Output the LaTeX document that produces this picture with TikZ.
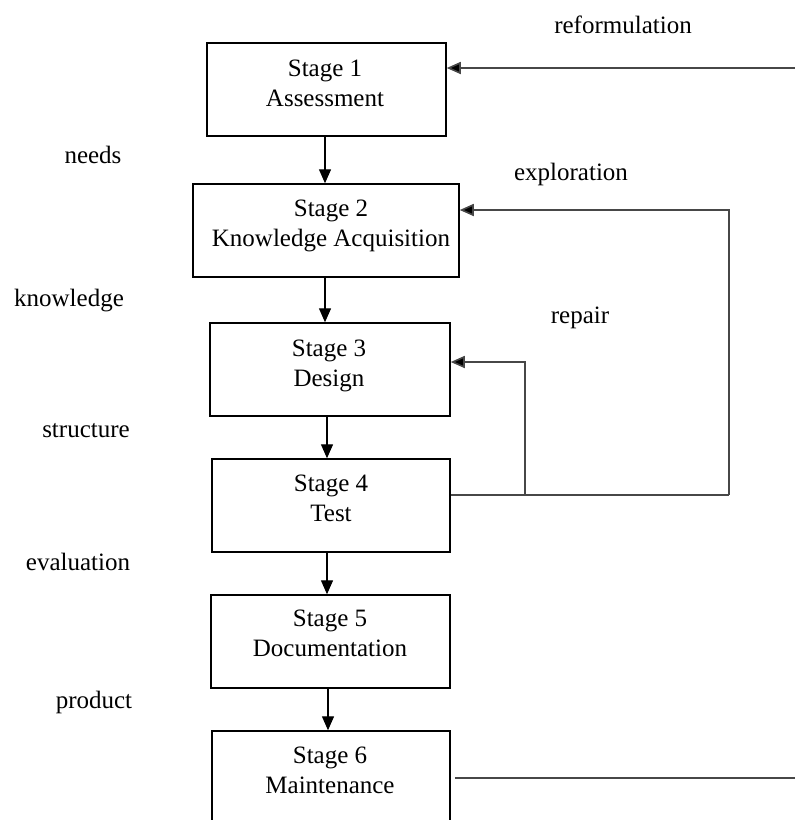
\documentclass[tikz,border=0pt]{standalone}
\usepackage{fontspec}
\setmainfont{Liberation Serif}
\usetikzlibrary{arrows.meta,calc}
\begin{document}
\begin{tikzpicture}[x=1pt,y=-1pt,
  stagebox/.style={draw=black,line width=1.5pt,rectangle,inner sep=0pt},
  stagetext/.style={anchor=base,align=center,inner sep=0pt,font=\fontsize{25}{30}\selectfont},
  lbl/.style={anchor=base,inner sep=0pt,font=\fontsize{25}{30}\selectfont},
  arr/.style={line width=1.4pt,-{Triangle[length=14pt,width=12pt]}},
  fb/.style={line width=1.6pt,draw=black!72},
  fbarr/.style={fb,-{Triangle[length=14pt,width=12pt,fill=black]}}]
\useasboundingbox (0,0) rectangle (795,820);
\clip (0,0) rectangle (795,820);
\fill[white] (0,0) rectangle (795,820);
% boxes
\node[stagebox,minimum width=239pt,minimum height=93pt] (b1) at (326.5,89.5) {};
\node[stagebox,minimum width=266pt,minimum height=93pt] (b2) at (326,230.5) {};
\node[stagebox,minimum width=240pt,minimum height=93pt] (b3) at (330,369.5) {};
\node[stagebox,minimum width=238pt,minimum height=93pt] (b4) at (331,505.5) {};
\node[stagebox,minimum width=239pt,minimum height=93pt] (b5) at (330.5,641.5) {};
\node[stagebox,minimum width=238pt,minimum height=93pt] (b6) at (331,777.5) {};
% texts (anchor base = baseline of the last line)
\node[stagetext] (t1) at (325,106) {Stage 1\\Assessment};
\node[stagetext] (t2) at (331,246) {Stage 2\\Knowledge Acquisition};
\node[stagetext] (t3) at (329,386) {Stage 3\\Design};
\node[stagetext] (t4) at (331,521) {Stage 4\\Test};
\node[stagetext] (t5) at (330,656) {Stage 5\\Documentation};
\node[stagetext] (t6) at (330,793) {Stage 6\\Maintenance};
% labels
\node[lbl] (lneeds) at (93,163) {needs};
\node[lbl] (lknow) at (69,306) {knowledge};
\node[lbl] (lstruct) at (86,437) {structure};
\node[lbl] (leval) at (78,570) {evaluation};
\node[lbl] (lprod) at (94,708) {product};
\node[lbl] (lrep) at (580,323) {repair};
\node[lbl] (lref) at (623,33) {reformulation};
\node[lbl] (lexp) at (571,180) {exploration};
% vertical arrows
\draw[arr] ([xshift=-1.5pt]b1.south) -- ([xshift=-1pt]b2.north);
\draw[arr] ([xshift=-1pt]b2.south) -- ([xshift=-5pt]b3.north);
\draw[arr] ([xshift=-3pt]b3.south) -- ([xshift=-4pt]b4.north);
\draw[arr] ([xshift=-4pt]b4.south) -- ([xshift=-3.5pt]b5.north);
\draw[arr] ([xshift=-2.5pt]b5.south) -- ([xshift=-3pt]b6.north);
% feedback
\coordinate (rin) at (795,68);
\coordinate (exc) at (729,210);
\coordinate (rpc) at (525,362);
\coordinate (bot) at (795,778);
\coordinate (b4o) at (b4.east |- 0,495);
\draw[fbarr] (rin) -- (rin -| b1.east);
\draw[fb] (b4o) -- (b4o -| exc);
\draw[fbarr] (b4o -| exc) -- (exc) -- (exc -| b2.east);
\draw[fbarr] (b4o -| rpc) -- (rpc) -- (rpc -| b3.east);
\draw[fb] ([xshift=4pt]b6.east |- bot) -- (bot);
\end{tikzpicture}
\end{document}
